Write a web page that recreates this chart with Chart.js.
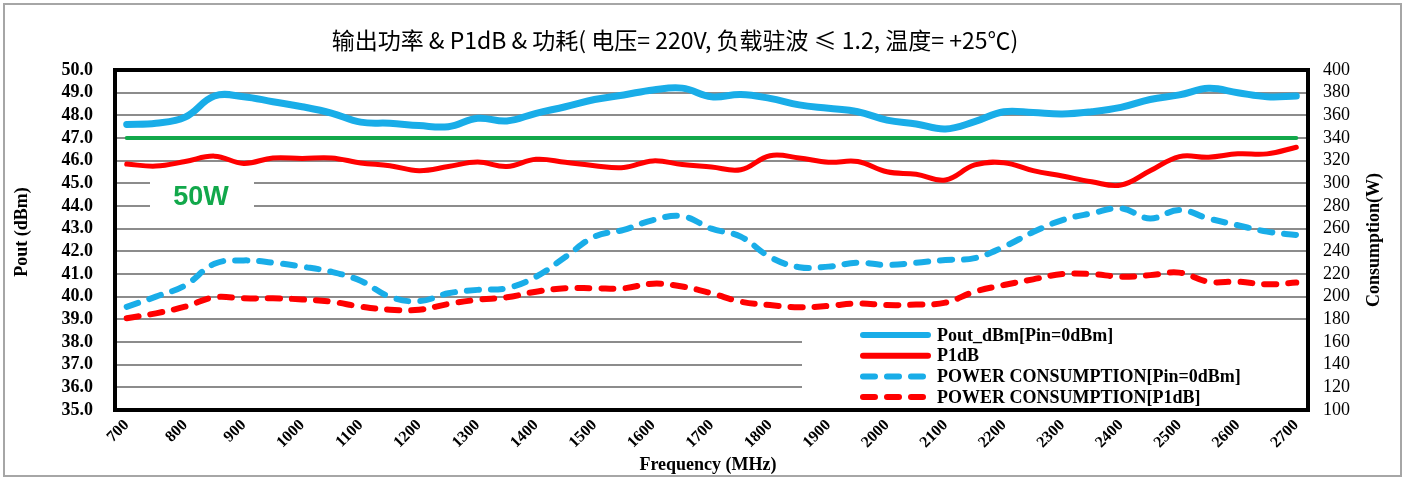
<!DOCTYPE html>
<html>
<head>
<meta charset="utf-8">
<script src="https://cdn.jsdelivr.net/npm/chart.js@4/dist/chart.umd.min.js"></script>
<style>
  html, body { margin: 0; padding: 0; background: #fff; }
  #wrap { width: 1406px; height: 481px; }
</style>
</head>
<body>
<div id="wrap"><canvas id="powerChart" width="1406" height="481"></canvas></div>
<script>
const chartTitle = '输出功率 & P1dB & 功耗( 电压= 220V, 负载驻波 ≤ 1.2, 温度= +25℃)';
const xTitle = 'Frequency (MHz)';
const leftTitle = 'Pout (dBm)';
const rightTitle = 'Consumption(W)';

const freqs = [700, 750, 800, 850, 900, 950, 1000, 1050, 1100, 1150, 1200, 1250, 1300, 1350, 1400,
    1450, 1500, 1550, 1600, 1650, 1700, 1750, 1800, 1850, 1900, 1950, 2000, 2050, 2100, 2150,
    2200, 2250, 2300, 2350, 2400, 2450, 2500, 2550, 2600, 2650, 2700];

const freqTicks = [700, 800, 900, 1000, 1100, 1200, 1300, 1400, 1500, 1600, 1700, 1800,
    1900, 2000, 2100, 2200, 2300, 2400, 2500, 2600, 2700];

const poutDbm = [47.6, 47.65, 47.92, 48.85, 48.82, 48.6, 48.38, 48.1, 47.7, 47.65, 47.55, 47.5, 47.87, 47.75, 48.09,
    48.38, 48.7, 48.9, 49.12, 49.2, 48.82, 48.92, 48.75, 48.46, 48.31, 48.16, 47.79, 47.62, 47.4, 47.72,
    48.16, 48.12, 48.06, 48.16, 48.35, 48.7, 48.9, 49.19, 49.0, 48.82, 48.85];

const p1dB = [45.85, 45.76, 45.96, 46.2, 45.88, 46.12, 46.1, 46.12, 45.9, 45.78, 45.56, 45.74, 45.94, 45.74, 46.06,
    45.93, 45.78, 45.7, 45.99, 45.83, 45.72, 45.6, 46.22, 46.12, 45.93, 45.96, 45.51, 45.4, 45.15, 45.81,
    45.91, 45.56, 45.32, 45.07, 44.92, 45.55, 46.18, 46.15, 46.3, 46.3, 46.59];

const consPin0 = [191, 200, 210, 229, 232, 230, 226.5, 222, 214, 200, 196, 203, 206, 207.5, 217.6,
    235, 253, 259, 267.6, 271, 260, 253, 235, 226, 226.5, 230, 228, 230, 232.4, 234,
    244, 257, 267.6, 273.5, 278, 269, 276.5, 269, 263, 257.4, 254.4];

const consP1dB = [181, 185.3, 191.2, 199.4, 198.5, 198.5, 197.6, 195.6, 191.2, 188.5, 188.5, 193.5, 197.3, 199.4, 204.4,
    207.4, 207.4, 207.4, 211.5, 209, 203, 195.6, 192.6, 190.6, 191.8, 194, 192.6, 193, 194.7, 204.4,
    210.3, 215.3, 220, 220, 217.6, 219, 221.2, 213.2, 213.2, 210.9, 212.4];

// 50W reference level
const refFreqs = [700, 2700];
const refLevel = [47.0, 47.0];

const seriesNames = ['Pout_dBm[Pin=0dBm]', 'P1dB', 'POWER CONSUMPTION[Pin=0dBm]', 'POWER CONSUMPTION[P1dB]'];

const BLUE = '#19ade8';
const RED = '#ff0000';
const GREEN = '#12a84b';
const serif = '"Liberation Serif", "Times New Roman", serif';

const toXY = (xs, ys) => xs.map((x, i) => ({ x: x, y: ys[i] }));

// title, frame, axis titles, 50W label and the legend box inside the plot
const decorPlugin = {
    id: 'decor',
    beforeDatasetsDraw(chart) {
        const ctx = chart.ctx;
        const area = chart.chartArea;
        ctx.save();
        ctx.fillStyle = '#fff';
        ctx.fillRect(802, 321, area.right - 802, area.bottom - 321);
        ctx.fillRect(150, 176, 104, 40);
        ctx.restore();
    },
    afterDatasetsDraw(chart) {
        const ctx = chart.ctx;
        const area = chart.chartArea;
        ctx.save();

        // outer frame
        ctx.strokeStyle = '#a6a6a6';
        ctx.lineWidth = 2;
        ctx.strokeRect(4, 4, 1397, 472);

        // plot frame
        ctx.strokeStyle = '#000';
        ctx.lineWidth = 4;
        ctx.strokeRect(area.left, area.top, area.right - area.left, area.bottom - area.top);

        // title
        ctx.fillStyle = '#000';
        ctx.font = '23px "Noto Sans CJK SC", sans-serif';
        ctx.textAlign = 'center';
        ctx.textBaseline = 'middle';
        ctx.fillText(chartTitle, 675, 40);

        ctx.font = 'bold 18px ' + serif;
        ctx.fillText(xTitle, 708, 465);

        // vertical axis titles, reading upwards
        [[leftTitle, 22, 232], [rightTitle, 1374, 240]].forEach(([txt, x, y]) => {
            ctx.save();
            ctx.translate(x, y);
            ctx.rotate(-Math.PI / 2);
            ctx.fillText(txt, 0, 0);
            ctx.restore();
        });

        // 50W
        ctx.fillStyle = GREEN;
        ctx.font = 'bold 27px "Liberation Sans", Arial, sans-serif';
        ctx.fillText('50W', 201, 198);

        // legend
        const colors = [BLUE, RED, BLUE, RED];
        const dashed = [false, false, true, true];
        ctx.textAlign = 'left';
        ctx.font = 'bold 18px ' + serif;
        seriesNames.forEach((name, i) => {
            const y = 335 + i * 20.7;
            ctx.strokeStyle = colors[i];
            ctx.lineWidth = 6;
            ctx.lineCap = 'round';
            ctx.setLineDash(dashed[i] ? [12, 12] : []);
            ctx.beginPath();
            ctx.moveTo(863, y);
            ctx.lineTo(dashed[i] ? 925 : 928, y);
            ctx.stroke();
            ctx.fillStyle = '#000';
            ctx.fillText(name, 937, y + 1);
        });
        ctx.restore();
    }
};

new Chart(document.getElementById('powerChart'), {
    type: 'line',
    data: {
        datasets: [
            {
                label: 'ref',
                data: toXY(refFreqs, refLevel),
                borderColor: GREEN,
                borderWidth: 4,
                yAxisID: 'y'
            },
            {
                label: seriesNames[3],
                data: toXY(freqs, consP1dB),
                borderColor: RED,
                borderWidth: 6,
                borderDash: [12, 12],
                yAxisID: 'y1'
            },
            {
                label: seriesNames[2],
                data: toXY(freqs, consPin0),
                borderColor: BLUE,
                borderWidth: 6,
                borderDash: [12, 12],
                yAxisID: 'y1'
            },
            {
                label: seriesNames[1],
                data: toXY(freqs, p1dB),
                borderColor: RED,
                borderWidth: 5,
                yAxisID: 'y'
            },
            {
                label: seriesNames[0],
                data: toXY(freqs, poutDbm),
                borderColor: BLUE,
                borderWidth: 7,
                yAxisID: 'y'
            }
        ]
    },
    options: {
        responsive: false,
        animation: false,
        layout: { padding: { top: 70, left: 0, right: 0, bottom: 0 } },
        elements: {
            point: { radius: 0 },
            line: { tension: 0.4, borderCapStyle: 'round', borderJoinStyle: 'round' }
        },
        plugins: {
            legend: { display: false },
            tooltip: { enabled: false },
            title: { display: false }
        },
        scales: {
            x: {
                type: 'linear',
                min: 680,
                max: 2720,
                afterBuildTicks: scale => { scale.ticks = freqTicks.map(v => ({ value: v })); },
                afterFit: scale => { scale.height = 71; },
                grid: { display: false, drawTicks: false },
                border: { display: false },
                ticks: {
                    autoSkip: false,
                    minRotation: 45,
                    maxRotation: 45,
                    padding: 6,
                    color: '#000',
                    font: { family: serif, size: 16, weight: 'bold' },
                    callback: v => String(v)
                },
                title: { display: false }
            },
            y: {
                position: 'left',
                min: 35,
                max: 50,
                afterFit: scale => { scale.width = 115; },
                grid: { color: '#8c8c8c', lineWidth: 2, drawTicks: false },
                border: { display: false },
                ticks: {
                    autoSkip: false,
                    stepSize: 1,
                    padding: 22,
                    color: '#000',
                    font: { family: serif, size: 18, weight: 'bold' },
                    callback: v => v.toFixed(1)
                },
                title: { display: false }
            },
            y1: {
                position: 'right',
                min: 100,
                max: 400,
                afterFit: scale => { scale.width = 98; },
                grid: { display: false, drawTicks: false },
                border: { display: false },
                ticks: {
                    autoSkip: false,
                    stepSize: 20,
                    padding: 15,
                    color: '#000',
                    font: { family: serif, size: 18 }
                },
                title: { display: false }
            }
        }
    },
    plugins: [decorPlugin]
});
</script>
</body>
</html>
